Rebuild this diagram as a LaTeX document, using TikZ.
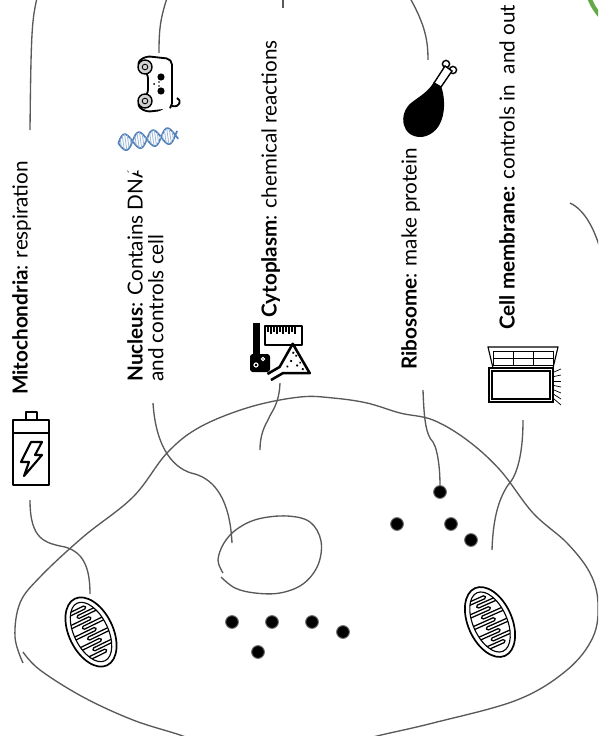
\documentclass[tikz,border=0pt]{standalone}
\usepackage{fontspec}
\setmainfont{Lato}
\usetikzlibrary{positioning}
\definecolor{linegray}{HTML}{595959}
\definecolor{dnablue}{HTML}{4F7FB8}
\definecolor{leafgreen}{HTML}{62A845}
\tikzset{
  conn/.style={draw=linegray, line width=0.95pt},
  lbl/.style={rotate=90, anchor=north west, inner sep=0pt, align=left, font=\fontsize{14.7}{14.8}\selectfont},
  ribo/.style={circle, fill=black, draw=black!55, line width=0.7pt, minimum size=3.2mm, inner sep=0pt},
  icon/.style={line width=1.3pt, line join=round},
  mitochondrion/.pic={
    \draw[line width=1.2pt, fill=white] (0,0) ellipse [x radius=37, y radius=22];
    \draw[line width=0.8pt] (0,0) ellipse [x radius=32, y radius=17];
    \begin{scope}
      \clip (0,0) ellipse [x radius=32, y radius=17];
      \foreach \x/\s in {-25/1,-19/-1,-13/1,-7/-1,-1/1,5/-1,11/1,17/-1,23/1}
        \draw[line width=0.9pt, rounded corners=1pt] ({\x-1.6},{\s*18}) -- ({\x-1.6},{-\s*6}) -- ({\x+1.6},{-\s*6}) -- ({\x+1.6},{\s*18});
    \end{scope}
  }
}
\begin{document}
\begin{tikzpicture}[x=0.025cm, y=-0.025cm]
	\useasboundingbox (0,0) rectangle (598,736);
	\clip (0,0) rectangle (598,736);
	% labels
	\node[lbl] (mitoTxt) at (12,395) {\textbf{Mitochondria}: respiration};
	\node[lbl] (nucTxt) at (127,382) {\textbf{Nucleus}: Contains DNA\\and controls cell};
	\node[lbl] (cytoTxt) at (261,318) {\textbf{Cytoplasm}: chemical reactions};
	\node[lbl] (riboTxt) at (401,370) {\textbf{Ribosome}: make protein};
	\node[lbl] (membTxt) at (499,330) {\textbf{Cell membrane:} controls in\ \ and out};
	%
	% battery
	\draw[icon, line width=2pt] (13,420) rectangle (49,485) (26,412) rectangle (37,420) (13,433) -- (49,433);
	\draw[icon, line width=1.5pt] (31,442) -- (42,442) -- (35,455) -- (42,455) -- (24,476) -- (29,462) -- (21,462) -- cycle;
	%
	% game pad
	\begin{scope}[shift={(157,84)}, y=0.025cm, rotate=-90]
		\draw[icon, rounded corners=4pt, fill=white] (-25,15) -- (25,15) -- (28,-12) -- (20,-21) -- (11,-9) -- (-11,-9) -- (-20,-21) -- (-28,-12) -- cycle;
		\foreach \s in {-1,1} {
			\draw[line width=1pt, fill=gray!35] (\s*17,-12) circle (7);
			\draw[line width=0.6pt] (\s*17,-12) circle (2.8);
		}
		\fill (-7,4) circle (3.6) (7,4) circle (3.6);
		\fill (0,-3) circle (1) (-2,2) circle (0.9) (2,2) circle (0.9);
		\draw[icon] (22,15) .. controls (24,23) and (16,25) .. (14,20);
	\end{scope}
	%
	% helix, its white patch hides part of the label
	\fill[white, rotate around={28:(148,140)}] (116,120) rectangle (182,162);
	\begin{scope}[rotate around={8:(148,139)}]
		\draw[dnablue, line width=1.2pt, domain=0:60, samples=80, smooth] plot ({118+\x},{139+8*sin(\x*12.5)});
		\draw[dnablue, line width=1.2pt, domain=0:60, samples=80, smooth] plot ({118+\x},{139-8*sin(\x*12.5)});
		\foreach \k in {2.5,5,...,58}
			\draw[dnablue!55, line width=0.6pt] ({118+\k},{139+8*sin(\k*12.5)}) -- ({118+\k},{139-8*sin(\k*12.5)});
	\end{scope}
	%
	% lab glassware
	\fill (253,323) rectangle (260,354);
	\draw[icon] (265,326) rectangle (302,345);
	\foreach \t in {0,...,9}
		\draw[line width=0.9pt] ({268+3*\t},327) -- ({268+3*\t},{332+2*mod(\t,2)});
	\fill[rounded corners=2pt] (250,354) rectangle (270,372);
	\draw[white, line width=0.8pt] (256,365) circle (2) (263,359) circle (1.6);
	\begin{scope}[shift={(290,365)}, y=0.025cm, rotate=120]
		\draw[icon, line width=1.8pt, fill=white] (-3.5,24) -- (-3.5,10) -- (-17,-13) -- (17,-13) -- (3.5,10) -- (3.5,24);
		\fill (-4,-6) circle (1.3) (3,-3) circle (1.3) (9,-9) circle (1.3) (-10,-9) circle (1.3) (0,3) circle (1.2) (5,-10) circle (1.2) (-3,-10) circle (1.1);
	\end{scope}
	%
	% drumstick
	\fill (441,86) .. controls (447,102) and (446,133) .. (422,137) .. controls (401,138) and (398,114) .. (411,103) .. controls (420,96) and (428,92) .. (434,82) -- cycle;
	\draw[line width=1pt, fill=white] (446,64) circle (3.6) (453,70) circle (3.6);
	\draw[line width=1pt, fill=white] (434,83) -- (441,87) -- (452,71) -- (445,66) -- cycle;
	%
	% chest with open lid
	\draw[line width=0.8pt] (488,347) -- (558,347) -- (553,368) -- (493,368) -- cycle;
	\draw[line width=0.7pt] (493,351) rectangle (553,365) (513,351) -- (513,365) (533,351) -- (533,365) (493,358) -- (553,358);
	\draw[line width=0.8pt] (489,368) rectangle (553,402) (492,371) rectangle (550,399);
	\foreach \r in {0,...,6}
		\draw[line width=0.5pt] (554,{372+4.5*\r}) -- (561,{369+6*\r});
	%
	% cell outline
	\draw[conn] plot[smooth, tension=0.6] coordinates {(23,663) (15,637) (20,603) (40,577) (83,537) (133,497) (167,453) (200,427) (250,407) (300,397) (333,398) (367,403) (400,413) (433,420) (467,440) (500,470) (533,513) (567,543) (590,573) (598,603) (593,637) (567,670) (517,700) (433,723) (377,736) (340,746)};
	\draw[conn] plot[smooth, tension=0.6] coordinates {(23,652) (40,670) (83,697) (133,720) (180,735) (205,745)};
	% nucleus
	\draw[conn] plot[smooth, tension=0.6] coordinates {(223,573) (218,560) (224,543) (237,529) (258,519) (287,516) (310,522) (321,541) (318,565) (303,584) (280,593) (255,593) (235,588) (221,577)};
	%
	% organelles
	\pic[rotate=-64] at (91,632) {mitochondrion};
	\pic[rotate=-66] at (490,622) {mitochondrion};
	\node[ribo] (r1) at (440,492) {};
	\node[ribo] (r2) at (397,524) {};
	\node[ribo] (r3) at (451,524) {};
	\node[ribo] (r4) at (471,540) {};
	\node[ribo] (r5) at (232,622) {};
	\node[ribo] (r6) at (272,622) {};
	\node[ribo] (r7) at (312,622) {};
	\node[ribo] (r8) at (343,632) {};
	\node[ribo] (r9) at (258,652) {};
	\coordinate (mitoA) at (90,594);
	\coordinate (nucEdge) at (232,543);
	\coordinate (cytoEnd) at (260,450);
	\coordinate (membEnd) at (492,550);
	%
	% leaders
	\coordinate (battEnd) at (30,500);
	\coordinate (nucStart) at (153,403);
	\coordinate (cytoStart) at (280,383);
	\coordinate (riboStart) at (423,390);
	\coordinate (membStart) at (523,420);
	\draw[conn] (battEnd) .. controls (30,540) and (45,543) .. (65,547) .. controls (82,552) and (90,565) .. (mitoA);
	\draw[conn] (nucStart) .. controls (156,450) and (175,470) .. (195,474) .. controls (215,480) and (230,500) .. (nucEdge);
	\draw[conn] (cytoStart) .. controls (279,405) and (272,410) .. (268,420) .. controls (262,430) and (260,440) .. (cytoEnd);
	\draw[conn] (riboStart) .. controls (424,420) and (426,435) .. (433,442) .. controls (438,450) and (440,470) .. (r1);
	\draw[conn] (membStart) .. controls (523,460) and (515,478) .. (508,485) .. controls (498,500) and (493,520) .. (membEnd);
	% leaders running off the top
	\draw[conn] (37,-2) .. controls (32,20) and (31,30) .. (30,130) coordinate (mitoTop);
	\draw[conn] (167,-2) .. controls (160,20) and (159,30) .. (159,53) coordinate (padTop);
	\draw[conn] (283,-2) -- (283,8) coordinate (cytoTop);
	\draw[conn] (410,-2) .. controls (425,25) and (428,40) .. (428,60) coordinate (legTop);
	\draw[conn] (570,203) .. controls (585,210) and (595,230) .. (601,252) coordinate (membRight);
	\draw[leafgreen, line width=3pt] (588,-5) .. controls (592,5) and (595,10) .. (601,17);
\end{tikzpicture}
\end{document}
